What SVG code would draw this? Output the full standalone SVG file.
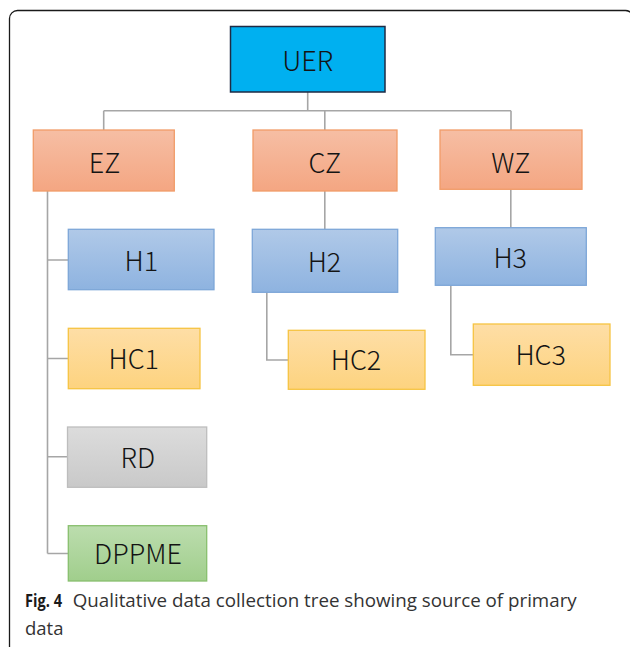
<svg xmlns="http://www.w3.org/2000/svg" width="630" height="647" viewBox="0 0 630 647">
<defs>
<linearGradient id="gOr" x1="0" y1="0" x2="0" y2="1"><stop offset="0" stop-color="#F6BEA4"/><stop offset="1" stop-color="#F4A682"/></linearGradient>
<linearGradient id="gBl" x1="0" y1="0" x2="0" y2="1"><stop offset="0" stop-color="#B0C9E8"/><stop offset="1" stop-color="#8EB3E0"/></linearGradient>
<linearGradient id="gYe" x1="0" y1="0" x2="0" y2="1"><stop offset="0" stop-color="#FEDEA6"/><stop offset="1" stop-color="#FDD37F"/></linearGradient>
<linearGradient id="gGr" x1="0" y1="0" x2="0" y2="1"><stop offset="0" stop-color="#DCDCDC"/><stop offset="1" stop-color="#C9C9C9"/></linearGradient>
<linearGradient id="gGn" x1="0" y1="0" x2="0" y2="1"><stop offset="0" stop-color="#BCDDAE"/><stop offset="1" stop-color="#A0CE8C"/></linearGradient>
</defs>
<style>
.lbl{font-family:"Noto Sans CJK SC","Noto Sans",sans-serif;font-size:27px;font-weight:300;fill:#141414;text-anchor:middle;dominant-baseline:central}
.or{fill:url(#gOr);stroke:#F19C68;stroke-width:1.3}
.bl{fill:url(#gBl);stroke:#7DA6D8;stroke-width:1.3}
.ye{fill:url(#gYe);stroke:#F6C443;stroke-width:1.3}
.gr{fill:url(#gGr);stroke:#BDBDBD;stroke-width:1.3}
.gn{fill:url(#gGn);stroke:#88BF6E;stroke-width:1.3}
.con{fill:none;stroke:#A6A6A6;stroke-width:1.6}
.cap{font-family:"Open Sans","Noto Sans",sans-serif;font-size:18.5px;font-weight:400;fill:#333}
.capb{font-family:"Open Sans","Noto Sans",sans-serif;font-size:18.5px;font-weight:700;fill:#1a1a1a}
</style>
<rect x="9.5" y="10.5" width="624" height="645" rx="8" fill="#fff" stroke="#1a1a1a" stroke-width="1.3"/>
<g id="connectors" class="con">
<path d="M307.7 92 V110.7 M103.7 110.7 H511 M103.7 110.7 V130 M324.8 110.7 V130 M511 110.7 V130"/>
<path d="M47.5 191 V553.5 M47.5 260 H68.3 M47.5 358.5 H68.3 M47.5 456.8 H67.5 M47.5 553.5 H68.3"/>
<path d="M324.8 191 V229.3 M266.8 292.3 V360 H288.3"/>
<path d="M510.8 189.3 V227.7 M450.8 285.3 V354.7 H473.3"/>
</g>
<g id="UER"><rect x="230.5" y="26.5" width="154.5" height="65.5" fill="#00B0F0" stroke="#1E2B45" stroke-width="1.5"/><text class="lbl" x="307.7" y="59">UER</text></g>
<g id="EZ"><rect class="or" x="33.3" y="130" width="141" height="61"/><text class="lbl" x="104.5" y="161">EZ</text></g>
<g id="CZ"><rect class="or" x="253" y="130" width="144" height="61"/><text class="lbl" x="324.8" y="161">CZ</text></g>
<g id="WZ"><rect class="or" x="440" y="130" width="142" height="59.3"/><text class="lbl" x="510.8" y="161">WZ</text></g>
<g id="H1"><rect class="bl" x="68.3" y="229.3" width="145.7" height="60.4"/><text class="lbl" x="141.3" y="259.7">H1</text></g>
<g id="H2"><rect class="bl" x="252.3" y="229.3" width="145.4" height="63"/><text class="lbl" x="324.5" y="260.5">H2</text></g>
<g id="H3"><rect class="bl" x="435.3" y="227.7" width="151" height="57.6"/><text class="lbl" x="510.2" y="256.3">H3</text></g>
<g id="HC1"><rect class="ye" x="68.3" y="328.3" width="131.7" height="60.4"/><text class="lbl" x="133.8" y="357.5">HC1</text></g>
<g id="HC2"><rect class="ye" x="288.3" y="330.3" width="136.7" height="59"/><text class="lbl" x="356" y="358.5">HC2</text></g>
<g id="HC3"><rect class="ye" x="473.3" y="324" width="136.7" height="61.3"/><text class="lbl" x="540.7" y="353.3">HC3</text></g>
<g id="RD"><rect class="gr" x="67.5" y="427" width="139.2" height="60.3"/><text class="lbl" x="137.8" y="456.5">RD</text></g>
<g id="DPPME"><rect class="gn" x="68.3" y="525.7" width="138.4" height="55.3"/><text class="lbl" x="138" y="552.7">DPPME</text></g>
<g id="caption">
<text class="capb" x="25" y="607.3" textLength="37" lengthAdjust="spacingAndGlyphs">Fig. 4</text>
<text class="cap" x="72.7" y="607.3" textLength="504" lengthAdjust="spacingAndGlyphs">Qualitative data collection tree showing source of primary</text>
<text class="cap" x="25" y="635">data</text>
</g>
</svg>
